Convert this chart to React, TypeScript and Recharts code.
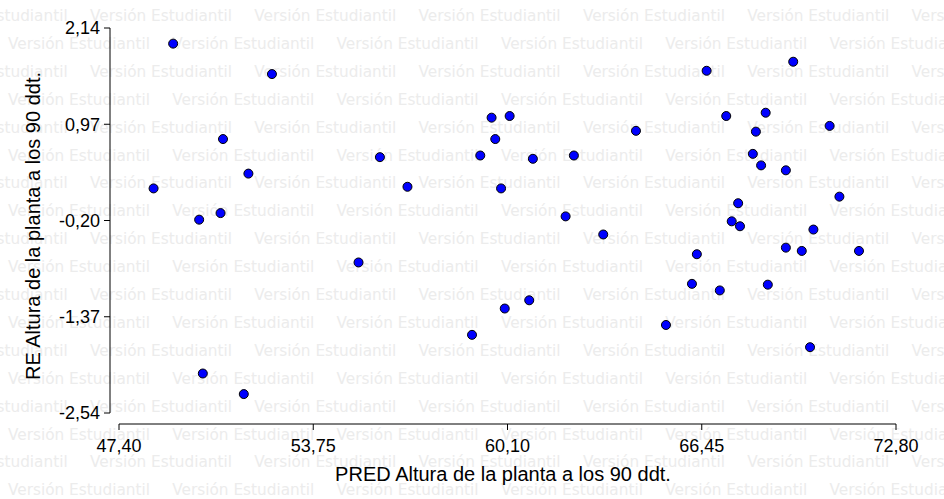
import React from 'react';
import { ScatterChart, Scatter, XAxis, YAxis } from 'recharts';

// predicted values (x) and residuals (y)
const predValues = [
  49.17, 52.4, 50.8, 48.53, 51.63, 50.02, 50.72, 50.14, 51.48, 55.93, 56.83, 55.23,
  59.58, 60.17, 59.7, 59.21, 60.93, 62.27, 59.89, 62.0, 63.23, 58.94, 60.01, 60.81,
  64.3, 66.61, 69.44, 67.25, 68.54, 68.22, 70.63, 68.12, 68.39, 69.2, 70.95, 67.64,
  67.43, 67.7, 70.1, 69.2, 69.72, 71.59, 66.29, 66.13, 67.04, 68.61, 65.28, 69.99,
];
const residuals = [
  1.95, 1.58, 0.79, 0.19, 0.37, -0.19, -0.11, -2.06, -2.31, 0.57, 0.21, -0.71,
  1.05, 1.07, 0.79, 0.59, 0.55, 0.59, 0.19, -0.15, -0.37, -1.59, -1.27, -1.17,
  0.89, 1.62, 1.73, 1.07, 1.11, 0.88, 0.95, 0.61, 0.47, 0.41, 0.09, 0.01,
  -0.21, -0.27, -0.31, -0.53, -0.57, -0.57, -0.61, -0.97, -1.05, -0.98, -1.47, -1.74,
];
const xTicks = [47.4, 53.75, 60.1, 66.45, 72.8];
const yTicks = [-2.54, -1.37, -0.2, 0.97, 2.14];

const xTitle = 'PRED Altura de la planta a los 90 ddt.';
const yTitle = 'RE Altura de la planta a los 90 ddt.';
const watermark = 'Versión Estudiantil';

const data = predValues.map((x, i) => ({ x, y: residuals[i] }));

const fmt = (v: number) => v.toFixed(2).replace('.', ',');

const W = 944;
const H = 499;

const Watermark = () => {
  const rows = [];
  for (let r = 0; r < 18; r++) {
    const start = r % 2 === 0 ? 90 : 8;
    for (let j = -1; j < 6; j++) {
      rows.push(
        <text
          key={`${r}-${j}`}
          x={start + j * 164.3}
          y={21 + r * 27.9}
          fontSize={15}
          textLength={142}
          lengthAdjust="spacingAndGlyphs"
          fill="#ececec"
        >
          {watermark}
        </text>
      );
    }
  }
  return (
    <svg width={W} height={H} style={{ position: 'absolute', left: 0, top: 0, fontFamily: 'DejaVu Sans' }}>
      {rows}
    </svg>
  );
};

const Dot = (props: any) => (
  <circle cx={props.cx} cy={props.cy} r={4.5} fill="#0000ff" stroke="#000" strokeWidth={1} />
);

const font = 'Liberation Sans, Arial';
const tickStyle = { fill: '#000', fontSize: 18, fontFamily: font };

export default function App() {
  return (
    <div style={{ position: 'absolute', left: 0, top: 0, width: W, height: H, background: '#fff' }}>
      <Watermark />
      <div style={{ position: 'absolute', left: 0, top: 0 }}>
        <ScatterChart width={W} height={H} margin={{ top: 28, right: 48, bottom: 0, left: 0 }}>
          <XAxis
            type="number"
            dataKey="x"
            domain={[47.4, 72.8]}
            ticks={xTicks}
            tickFormatter={fmt}
            padding={{ left: 9, right: 0 }}
            height={75}
            tickSize={6}
            tickMargin={9}
            interval={0}
            stroke="#000"
            tick={tickStyle}
            tickLine={{ stroke: '#000' }}
            axisLine={{ stroke: '#000', strokeDasharray: '0 9 800' }}
            label={{ value: xTitle, position: 'insideBottom', offset: 18, fill: '#000', fontSize: 20, fontFamily: font }}
          />
          <YAxis
            type="number"
            dataKey="y"
            domain={[-2.54, 2.14]}
            ticks={yTicks}
            tickFormatter={fmt}
            padding={{ top: 0, bottom: 11 }}
            width={110}
            tickSize={6}
            tickMargin={4}
            interval={0}
            stroke="#000"
            tick={tickStyle}
            tickLine={{ stroke: '#000' }}
            axisLine={{ stroke: '#000', strokeDasharray: '385 50' }}
            label={{ value: yTitle, angle: -90, position: 'insideLeft', offset: 33, fill: '#000', fontSize: 20, fontFamily: font, style: { textAnchor: 'middle' } }}
          />
          <Scatter data={data} shape={Dot} isAnimationActive={false} />
        </ScatterChart>
      </div>
    </div>
  );
}
